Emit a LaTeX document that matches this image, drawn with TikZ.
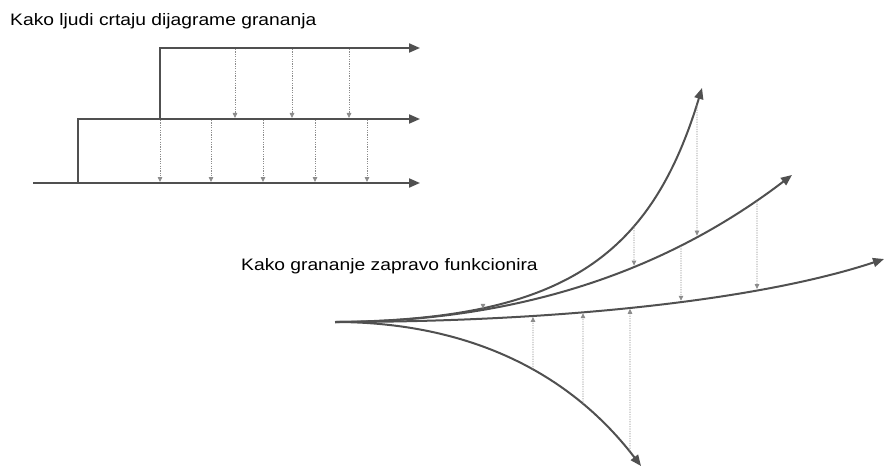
\documentclass[tikz,border=0pt]{standalone}
\usepackage{fontspec}
\setmainfont{Liberation Sans}[FakeStretch=1.16]
\usetikzlibrary{arrows.meta,intersections}
\definecolor{ln}{HTML}{505050}
\definecolor{dt}{HTML}{8C8C8C}
\tikzset{
 solidln/.style={draw=ln, line width=2pt, -{Triangle[length=11pt,width=9pt]}},
 dotarr/.style={draw=dt, line width=0.8pt, dash pattern=on 1.2pt off 1.2pt, -{Triangle[length=5pt,width=4.5pt]}, shorten >=1pt, shorten <=1pt},
 lbl/.style={font=\fontsize{16.6}{19}\selectfont, text=black, inner sep=0pt, anchor=base west}
}
\begin{document}
\begin{tikzpicture}[x=1pt,y=-1pt]
\useasboundingbox (0,0) rectangle (885,468);
\node[lbl] (t1) at (10,26) {Kako ljudi crtaju dijagrame grananja};
\node[lbl] (t2) at (241,270) {Kako grananje zapravo funkcionira};

% ---------- top diagram ----------
\coordinate (b0) at (33,183); \coordinate (b1) at (78,183); \coordinate (be) at (420,183);
\coordinate (m0) at (78,119); \coordinate (m1) at (160,119); \coordinate (me) at (420,119);
\coordinate (u0) at (160,48); \coordinate (ue) at (420,48);
\draw[solidln] (b0) -- (be);
\draw[solidln] (b1) -- (m0) -- (me);
\draw[solidln] (m1) -- (u0) -- (ue);

\foreach \x [count=\i] in {235,292,349} {
  \coordinate (ua\i) at (\x,48);
  \coordinate (ub\i) at (\x,119);
  \draw[dotarr] (ua\i) -- (ub\i);
}
\foreach \x [count=\i] in {160,211,263,315,367} {
  \coordinate (ma\i) at (\x,119);
  \coordinate (mb\i) at (\x,183);
  \draw[dotarr] (ma\i) -- (mb\i);
}

% ---------- bottom diagram ----------
\coordinate (S) at (335,322);
\coordinate (Me) at (884,259);
\coordinate (C1e) at (702,88);
\coordinate (C2e) at (792,175);
\coordinate (Le) at (641,466);
\draw[solidln, name path=main] (S) .. controls (560,322) and (760,300) .. (Me);
\draw[solidln, name path=cb] (S) .. controls (560,322) and (700,245) .. (C2e);
\draw[solidln, name path=ca] (S) .. controls (560,320) and (650,260) .. (C1e);
\draw[solidln, name path=low] (S) .. controls (450,322) and (560,360) .. (Le);

\path[name path=v0] (483,0) -- (483,468);
\path[name path=v1] (634,0) -- (634,468);
\path[name path=v2] (697,0) -- (697,468);
\path[name path=v3] (681,0) -- (681,468);
\path[name path=v4] (757,0) -- (757,468);
\path[name path=v5] (533,0) -- (533,468);
\path[name path=v6] (583,0) -- (583,468);
\path[name path=v7] (630,0) -- (630,468);

\path[name intersections={of=cb and v0, by=p0b}];
\path[name intersections={of=ca and v1, by=p1a}];
\path[name intersections={of=cb and v1, by=p1b}];
\path[name intersections={of=ca and v2, by=p2a}];
\path[name intersections={of=cb and v2, by=p2b}];
\path[name intersections={of=cb and v3, by=p3a}];
\path[name intersections={of=main and v3, by=p3b}];
\path[name intersections={of=cb and v4, by=p4a}];
\path[name intersections={of=main and v4, by=p4b}];
\path[name intersections={of=low and v5, by=p5a}];
\path[name intersections={of=main and v5, by=p5b}];
\path[name intersections={of=low and v6, by=p6a}];
\path[name intersections={of=main and v6, by=p6b}];
\path[name intersections={of=low and v7, by=p7a}];
\path[name intersections={of=main and v7, by=p7b}];
\coordinate (p0a) at ([yshift=7pt]p0b);

\draw[dotarr] (p0a) -- (p0b);
\draw[dotarr] (p1a) -- (p1b);
\draw[dotarr] (p2a) -- (p2b);
\draw[dotarr] (p3a) -- (p3b);
\draw[dotarr] (p4a) -- (p4b);
\draw[dotarr] (p5a) -- (p5b);
\draw[dotarr] (p6a) -- (p6b);
\draw[dotarr] (p7a) -- (p7b);
\end{tikzpicture}
\end{document}
